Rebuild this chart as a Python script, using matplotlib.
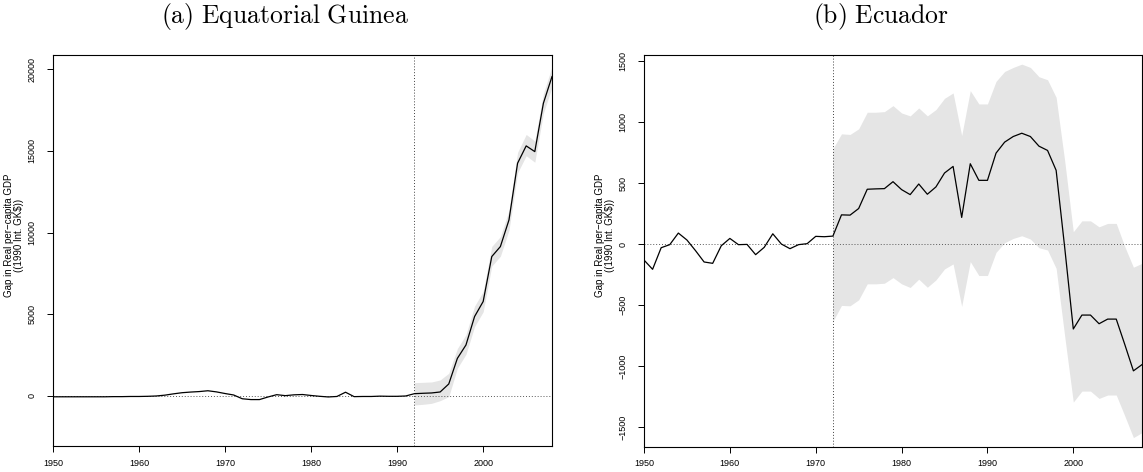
import numpy as np
import matplotlib
matplotlib.use("Agg")
import matplotlib.pyplot as plt

plt.rcParams['mathtext.fontset'] = 'cm'
plt.rcParams['font.family'] = ['Liberation Sans', 'DejaVu Sans']

years = list(range(1950, 2009))

# (a) Equatorial Guinea
eg_gap = [-50, -50, -50, -50, -50, -50, -50, -40, -40, -30,
          -30, -20, 0, 50, 130, 200, 240, 270, 320, 250,
          150, 60, -170, -220, -220, -60, 80, 20, 70, 90,
          30, -20, -60, -30, 230, -40, -30, -30, -10, -20,
          -20, 0, 140, 165, 185, 245, 734, 2300, 3120, 4860,
          5780, 8530, 9140, 10770, 14240, 15300, 14950, 17910, 19540]
eg_treat = 1992
eg_band_years = list(range(1992, 2009))
eg_upper = [816, 836, 857, 980, 1390, 2900, 3750, 5500, 6400, 9150,
            9750, 11350, 14900, 16000, 15600, 18500, 20150]
eg_lower = [-550, -510, -450, -285, -40, 1700, 2550, 4250, 5150, 7950,
            8550, 10150, 13650, 14700, 14300, 17300, 18900]
eg_yticks = [0, 5000, 10000, 15000, 20000]

# (b) Ecuador
ec_gap = [-131, -207, -30, -5, 90, 33, -54, -147, -158, -14,
          46, -5, -3, -87, -27, 84, 0, -38, -5, 3,
          63, 60, 65, 239, 237, 291, 449, 452, 454, 511,
          446, 405, 492, 408, 468, 582, 636, 218, 658, 522,
          522, 745, 835, 881, 908, 881, 802, 767, 604, -30,
          -696, -582, -582, -653, -615, -615, -824, -1039, -988]
ec_treat = 1972
ec_band_years = list(range(1972, 2009))
ec_upper = [781, 903, 898, 944, 1080, 1080, 1085, 1134, 1074, 1050,
            1115, 1050, 1102, 1194, 1238, 889, 1257, 1148, 1148, 1333,
            1414, 1447, 1474, 1447, 1371, 1346, 1202, 680, 101, 190,
            190, 141, 169, 169, -22, -190, -158]
ec_lower = [-634, -503, -506, -457, -326, -326, -321, -275, -326, -356,
            -288, -354, -294, -204, -163, -511, -144, -258, -258, -68,
            11, 46, 68, 41, -30, -49, -199, -756, -1295, -1205,
            -1205, -1265, -1237, -1237, -1409, -1586, -1545]
ec_yticks = [-1500, -1000, -500, 0, 500, 1000, 1500]

xticks = [1950, 1960, 1970, 1980, 1990, 2000]
titles = [r'$\mathrm{(a)\ Equatorial\ Guinea}$', r'$\mathrm{(b)\ Ecuador}$']
ylab1 = 'Gap in Real per\u2212capita GDP'
ylab2 = r'((1990 Int. GK\$))'

W, H = 1143, 472
fig = plt.figure(figsize=(W / 100, H / 100), dpi=100)


def px_axes(x0, y0, x1, y1):
    return fig.add_axes([x0 / W, 1 - y1 / H, (x1 - x0) / W, (y1 - y0) / H])


panels = [
    dict(box=(53, 55, 552, 446), gap=eg_gap, treat=eg_treat, by=eg_band_years,
         up=eg_upper, lo=eg_lower, yticks=eg_yticks, ylim=(-3060, 20860),
         lab_x=(9, 19), lab_y=235, title_x=285),
    dict(box=(644, 55, 1142, 447), gap=ec_gap, treat=ec_treat, by=ec_band_years,
         up=ec_upper, lo=ec_lower, yticks=ec_yticks, ylim=(-1663, 1549),
         lab_x=(600, 610), lab_y=235, title_x=881),
]

for i, p in enumerate(panels):
    ax = px_axes(*p['box'])
    ax.fill_between(p['by'], p['lo'], p['up'], color='#E5E5E5', linewidth=0, zorder=1)
    ax.plot(years, p['gap'], color='black', linewidth=0.9, zorder=3)
    ax.axhline(0, color='0.35', linewidth=0.7, linestyle=(0, (1, 2)), zorder=2)
    ax.axvline(p['treat'], color='0.25', linewidth=0.7, linestyle=(0, (1, 2)), zorder=2)
    ax.set_xlim(1950, 2008)
    ax.set_ylim(*p['ylim'])
    ax.set_xticks(xticks)
    ax.set_yticks(p['yticks'])
    ax.set_yticklabels([str(v).replace('-', '\u2212') for v in p['yticks']],
                       rotation=90, va='center')
    ax.tick_params(axis='both', labelsize=6.5, length=4, width=0.7, direction='out')
    ax.tick_params(axis='x', pad=5)
    ax.tick_params(axis='y', pad=8)
    for s in ax.spines.values():
        s.set_linewidth(0.8)
    fig.text(p['title_x'] / W, 1 - 17 / H, titles[i], ha='center', va='center',
             fontsize=18.5)
    fig.text(p['lab_x'][0] / W, 1 - p['lab_y'] / H, ylab1, rotation=90,
             ha='center', va='center', fontsize=7)
    fig.text(p['lab_x'][1] / W, 1 - p['lab_y'] / H, ylab2, rotation=90,
             ha='center', va='center', fontsize=7)

fig.savefig('out.png', dpi=100)
